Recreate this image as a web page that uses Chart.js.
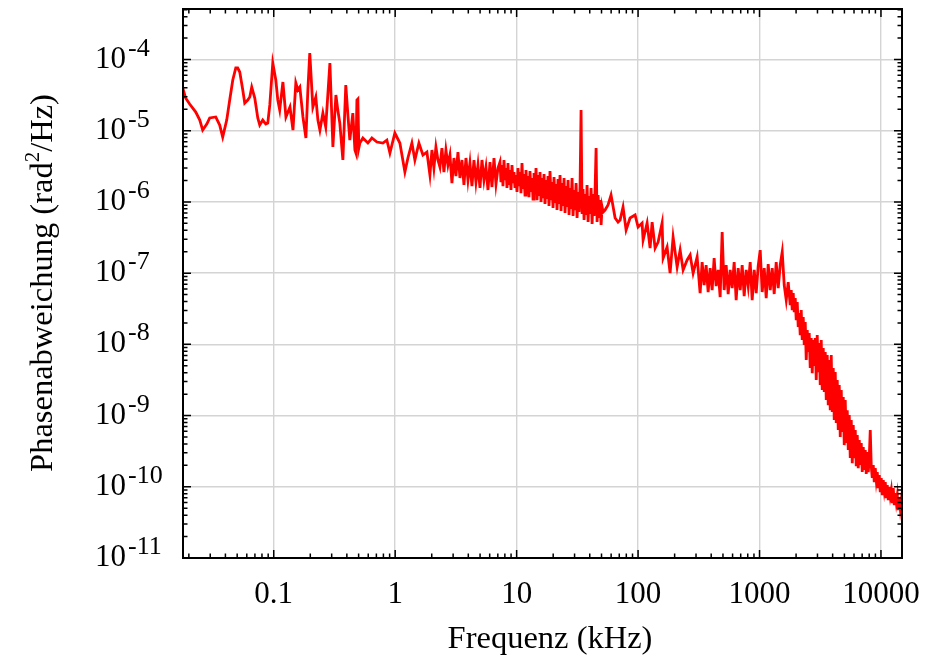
<!DOCTYPE html>
<html>
<head>
<meta charset="utf-8">
<script src="https://cdn.jsdelivr.net/npm/chart.js@4.4.1/dist/chart.umd.min.js"></script>
<style>
  html, body { margin: 0; padding: 0; background: #fff; }
  canvas { display: block; }
</style>
</head>
<body>
<canvas id="psdChart" width="926" height="659"></canvas>
<script>
// frequency in kHz
const freq = [
  0.0178, 0.0188, 0.0203, 0.0228, 0.0246, 0.0260, 0.0281, 0.0297, 0.0333, 0.0359,
  0.0380, 0.0410, 0.0434, 0.0460, 0.0487, 0.0505, 0.0525, 0.0556, 0.0577, 0.0611,
  0.0635, 0.0659, 0.0698, 0.0739, 0.0767, 0.0812, 0.0860, 0.0893, 0.0928, 0.0982,
  0.104, 0.108, 0.112, 0.119, 0.126, 0.136, 0.144, 0.152, 0.158, 0.164,
  0.174, 0.184, 0.191, 0.198, 0.210, 0.222, 0.231, 0.240, 0.254, 0.268,
  0.290, 0.307, 0.325, 0.337, 0.350, 0.371, 0.392, 0.408, 0.423, 0.448,
  0.466, 0.475, 0.484, 0.493, 0.502, 0.512, 0.542, 0.596, 0.643, 0.707,
  0.792, 0.854, 0.905, 0.994, 1.093, 1.202, 1.273, 1.373, 1.453, 1.568,
  1.692, 1.825,
  1.932, 2.007, 2.084, 2.165, 2.249, 2.336, 2.426, 2.520, 2.617, 2.719,
  2.824, 2.933, 3.047, 3.164, 3.287, 3.414, 3.546, 3.683, 3.826, 3.974,
  4.127, 4.287, 4.453, 4.625, 4.804, 4.990, 5.183, 5.384, 5.592, 5.808,
  6.033, 6.266, 6.509, 6.761, 7.022,
  7.292, 7.432, 7.575, 7.720, 7.867, 8.018, 8.172, 8.328, 8.488, 8.650,
  8.816, 8.985, 9.157, 9.332, 9.511, 9.693, 9.879, 10.07, 10.26, 10.46,
  10.66, 10.86, 11.07, 11.28, 11.50, 11.72, 11.94, 12.17, 12.40, 12.64,
  12.88, 13.13, 13.38, 13.64, 13.90, 14.17, 14.44, 14.72, 15.00, 15.29,
  15.58, 15.88, 16.18, 16.49, 16.81, 17.13, 17.46, 17.79, 18.13, 18.48,
  18.83, 19.20, 19.56, 19.94, 20.32, 20.71, 21.11, 21.51, 21.92, 22.35,
  22.77, 23.21, 23.66, 24.11, 24.57, 25.04, 25.52, 26.01, 26.51, 27.02,
  27.53, 28.06, 28.60, 29.15, 29.71, 30.28, 30.86, 31.45, 32.05, 32.66,
  33.29, 33.93, 34.58, 35.24, 35.92, 36.61, 37.31, 38.02, 38.75, 39.49,
  40.25, 41.02, 41.81, 42.61, 43.43, 44.26, 45.11, 45.97, 46.85, 47.75,
  48.67, 49.60, 50.55, 51.52,
  53.46, 56.6, 59.9, 64.7, 68.4, 71.1, 75.2, 79.7, 85.9, 94.5,
  100.0, 107.9, 110.0, 118.7, 125.6, 130.5, 138.1, 146.2, 157.7, 160.8,
  173.4, 183.5, 194.3, 209.7, 222.0, 234.9, 253.5, 268.3, 284.0, 306.4,
  324.3, 336.9, 349.9, 363.4, 377.5, 392.1, 407.3, 423.0, 439.4, 456.4,
  474.0, 492.4, 511.4, 531.2, 551.8, 573.1, 595.3, 618.3, 642.2, 667.1,
  692.9, 719.7, 747.6, 776.5, 806.6, 837.8, 870.2, 903.9, 938.9, 975.2,
  1013, 1052, 1093, 1135, 1179, 1225, 1272, 1321, 1372, 1425,
  1480, 1538, 1597, 1659, 1723, 1790,
  1824, 1859, 1894, 1931, 1968, 2005, 2044, 2083, 2123, 2163,
  2205, 2247, 2290, 2334, 2379, 2424, 2471, 2518, 2566, 2615,
  2665, 2716, 2768, 2821, 2875, 2930, 2986, 3044, 3102, 3161,
  3222, 3284, 3347, 3411, 3476, 3543, 3610, 3680, 3750, 3822,
  3895, 3970, 4046, 4123, 4202, 4283, 4365, 4448, 4533, 4620,
  4709, 4799, 4891, 4984, 5080, 5177, 5276, 5377, 5480, 5585,
  5692, 5801, 5912, 6025, 6141, 6258, 6378, 6500, 6625, 6751,
  6881, 7012, 7147, 7283, 7423, 7565, 7710, 7858, 8008, 8162,
  8318, 8477, 8640, 8805, 8974, 9146, 9321, 9499, 9681, 9867,
  10056, 10248, 10445, 10645, 10849, 11057, 11268, 11484, 11704, 11928,
  12157, 12390, 12627, 12869, 13115, 13367, 13623, 13884, 14150, 14421,
  14697, 14979
];

// phase noise PSD in rad^2/Hz
const psd = [
  3.98e-5, 2.88e-5, 2.37e-5, 1.83e-5, 1.41e-5, 1.02e-5, 1.24e-5, 1.51e-5, 1.56e-5, 1.20e-5,
  8.16e-6, 1.41e-5, 2.70e-5, 5.15e-5, 7.60e-5, 7.60e-5, 6.67e-5, 3.73e-5, 2.45e-5, 2.70e-5,
  2.97e-5, 4.11e-5, 2.88e-5, 1.51e-5, 1.20e-5, 1.41e-5, 1.24e-5, 1.28e-5, 2.30e-5, 8.93e-5,
  5.15e-5, 2.70e-5, 1.95e-5, 4.83e-5, 1.56e-5, 2.15e-5, 1.02e-5, 4.68e-5, 3.73e-5, 4.11e-5,
  1.56e-5, 7.90e-6, 3.73e-5, 1.23e-4, 2.15e-5, 2.97e-5, 1.41e-5, 1.02e-5, 1.77e-5, 1.13e-5,
  8.93e-5, 5.90e-6, 3.17e-5, 1.95e-5, 1.28e-5, 3.88e-6, 4.38e-5, 1.66e-5, 7.40e-6, 1.77e-5,
  5.36e-6, 4.86e-6, 2.70e-5, 2.79e-5, 5.71e-6, 6.72e-6, 7.90e-6, 6.72e-6, 7.90e-6, 6.94e-6,
  6.72e-6, 7.40e-6, 4.86e-6, 9.29e-6, 6.72e-6, 2.63e-6, 4.14e-6, 6.72e-6, 3.88e-6, 6.72e-6,
  4.56e-6, 5.02e-6,
  2.39e-6, 5.36e-6, 2.99e-6, 5.90e-6, 3.88e-6, 3.09e-6, 5.71e-6, 2.63e-6, 5.36e-6, 3.30e-6,
  4.56e-6, 1.84e-6, 4.14e-6, 2.31e-6, 5.02e-6, 2.17e-6, 3.88e-6, 1.73e-6, 4.14e-6, 2.03e-6,
  3.52e-6, 1.67e-6, 3.88e-6, 1.90e-6, 3.30e-6, 1.57e-6, 3.88e-6, 2.03e-6, 3.09e-6, 1.47e-6,
  3.63e-6, 1.62e-6, 4.14e-6, 1.78e-6, 2.99e-6,
  3.63e-6, 1.90e-6, 3.30e-6, 1.67e-6, 3.88e-6, 2.03e-6, 2.99e-6, 1.57e-6, 3.52e-6, 1.73e-6,
  2.81e-6, 1.47e-6, 3.30e-6, 1.84e-6, 2.63e-6, 1.57e-6, 2.39e-6, 1.38e-6, 2.99e-6, 1.67e-6,
  2.63e-6, 1.33e-6, 3.52e-6, 1.52e-6, 2.47e-6, 1.25e-6, 2.81e-6, 1.47e-6, 2.31e-6, 1.17e-6,
  2.72e-6, 1.38e-6, 2.17e-6, 1.10e-6, 2.55e-6, 1.29e-6, 2.99e-6, 1.06e-6, 2.39e-6, 1.21e-6,
  2.63e-6, 9.97e-7, 2.17e-6, 1.13e-6, 2.47e-6, 9.34e-7, 2.03e-6, 1.10e-6, 2.31e-6, 8.76e-7,
  2.72e-6, 1.06e-6, 1.90e-6, 8.21e-7, 2.24e-6, 9.65e-7, 1.78e-6, 7.69e-7, 2.10e-6, 9.34e-7,
  2.39e-6, 7.45e-7, 1.84e-6, 8.76e-7, 2.17e-6, 6.98e-7, 1.67e-6, 8.48e-7, 2.03e-6, 6.55e-7,
  1.57e-6, 7.95e-7, 2.17e-6, 6.34e-7, 1.47e-6, 7.69e-7, 1.84e-6, 5.94e-7, 1.38e-6, 7.21e-7,
  1.67e-6, 1.95e-5, 6.76e-7, 1.52e-6, 5.57e-7, 1.29e-6, 6.55e-7, 1.73e-6, 5.22e-7, 1.21e-6,
  6.76e-7, 1.57e-6, 4.89e-7, 1.29e-6, 6.34e-7, 1.47e-6, 5.71e-6, 5.22e-7, 1.25e-6, 5.94e-7,
  1.06e-6, 4.74e-7, 8.48e-7, 7.21e-7,
  7.69e-7, 9.05e-7, 1.25e-6, 5.94e-7, 5.22e-7, 5.57e-7, 8.48e-7, 4.03e-7, 5.94e-7, 6.55e-7,
  4.44e-7, 5.05e-7, 2.92e-7, 5.05e-7, 2.25e-7, 5.22e-7, 2.25e-7, 2.73e-7, 5.05e-7, 1.63e-7,
  2.33e-7, 1.00e-7, 3.21e-7, 1.22e-7, 2.11e-7, 1.11e-7, 1.53e-7, 1.80e-7, 1.00e-7, 1.68e-7,
  5.25e-8, 1.43e-7, 6.81e-8, 1.30e-7, 5.43e-8, 1.18e-7, 5.79e-8, 1.63e-7, 6.59e-8, 1.11e-7,
  4.62e-8, 3.78e-7, 5.79e-8, 1.30e-7, 5.09e-8, 1.11e-7, 6.18e-8, 1.43e-7, 4.19e-8, 1.18e-7,
  5.79e-8, 1.30e-7, 4.77e-8, 1.11e-7, 6.59e-8, 1.43e-7, 4.19e-8, 1.11e-7, 5.25e-8, 1.26e-7,
  2.11e-7, 5.43e-8, 1.18e-7, 4.47e-8, 1.34e-7, 5.79e-8, 1.18e-7, 5.09e-8, 1.43e-7, 6.18e-8,
  1.30e-7, 1.98e-7, 6.81e-8, 4.19e-8, 7.50e-8, 3.56e-8,
  5.79e-8, 3.03e-8, 5.25e-8, 2.84e-8, 4.47e-8, 2.19e-8, 3.93e-8, 1.75e-8, 2.75e-8, 1.35e-8,
  3.03e-8, 1.15e-8, 2.42e-8, 9.78e-9, 2.06e-8, 6.02e-9, 1.59e-8, 7.80e-9, 1.44e-8, 4.65e-9,
  1.23e-8, 3.95e-9, 1.15e-8, 4.96e-9, 1.23e-8, 3.15e-9, 1.35e-8, 4.08e-9, 1.04e-8, 2.68e-9,
  1.15e-8, 2.28e-9, 8.87e-9, 2.14e-9, 7.80e-9, 1.65e-9, 7.07e-9, 1.40e-9, 6.02e-9, 1.19e-9,
  7.07e-9, 1.12e-9, 4.65e-9, 8.65e-10, 4.08e-9, 7.85e-10, 3.15e-9, 6.26e-10, 2.68e-9, 4.99e-10,
  2.28e-9, 5.87e-10, 1.82e-9, 3.85e-10, 1.65e-9, 4.11e-10, 1.19e-9, 3.28e-10, 1.02e-9, 2.53e-10,
  8.65e-10, 2.15e-10, 7.36e-10, 2.53e-10, 6.26e-10, 1.95e-10, 5.32e-10, 1.83e-10, 4.53e-10, 2.02e-10,
  4.11e-10, 1.61e-10, 3.61e-10, 1.72e-10, 3.28e-10, 1.51e-10, 3.07e-10, 1.61e-10, 2.53e-10, 6.26e-10,
  1.95e-10, 1.33e-10, 2.02e-10, 1.16e-10, 1.83e-10, 1.24e-10, 1.61e-10, 9.59e-11, 1.46e-10, 8.42e-11,
  1.33e-10, 7.65e-11, 1.24e-10, 8.99e-11, 1.16e-10, 6.94e-11, 1.06e-10, 6.51e-11, 9.90e-11, 7.40e-11,
  8.99e-11, 5.90e-11, 9.59e-11, 5.53e-11, 8.16e-11, 6.10e-11, 7.65e-11, 4.71e-11, 7.17e-11, 5.02e-11,
  6.51e-11, 4.41e-11
];

const xTicks = [0.1, 1, 10, 100, 1000, 10000];
const xTickLabels = ['0.1', '1', '10', '100', '1000', '10000'];
const yTicks = [1e-4, 1e-5, 1e-6, 1e-7, 1e-8, 1e-9, 1e-10, 1e-11];
const yTickExps = ['-4', '-5', '-6', '-7', '-8', '-9', '-10', '-11'];

const serif = '"Liberation Serif", "Times New Roman", serif';

// frame, inward ticks and all the text (superscripts need manual drawing)
const framePlugin = {
  id: 'framePlugin',
  afterDraw(chart) {
    const { ctx, chartArea: a, scales: { x, y } } = chart;
    ctx.save();
    ctx.strokeStyle = '#000';
    ctx.lineWidth = 1.5;
    ctx.beginPath();
    for (let e = -2; e <= 4; e++) {
      for (let k = 1; k <= 9; k++) {
        const v = k * Math.pow(10, e);
        if (v < x.min || v > x.max) continue;
        const px = x.getPixelForValue(v);
        const len = k === 1 ? 8 : 4.5;
        ctx.moveTo(px, a.bottom); ctx.lineTo(px, a.bottom - len);
        ctx.moveTo(px, a.top); ctx.lineTo(px, a.top + len);
      }
    }
    for (let e = -11; e <= -4; e++) {
      for (let k = 1; k <= 9; k++) {
        const v = k * Math.pow(10, e);
        if (v < y.min || v > y.max) continue;
        const py = y.getPixelForValue(v);
        const len = k === 1 ? 8 : 4.5;
        ctx.moveTo(a.left, py); ctx.lineTo(a.left + len, py);
        ctx.moveTo(a.right, py); ctx.lineTo(a.right - len, py);
      }
    }
    ctx.stroke();

    ctx.lineWidth = 2;
    ctx.strokeRect(a.left, a.top, a.right - a.left, a.bottom - a.top);

    ctx.fillStyle = '#000';
    ctx.textBaseline = 'alphabetic';

    // x tick labels
    ctx.font = '31px ' + serif;
    ctx.textAlign = 'center';
    xTicks.forEach((v, i) => {
      ctx.fillText(xTickLabels[i], x.getPixelForValue(v), 603);
    });

    // y tick labels 10^n
    ctx.textAlign = 'left';
    yTicks.forEach((v, i) => {
      const py = y.getPixelForValue(v);
      ctx.font = '31px ' + serif;
      ctx.fillText('10', 95, py + 8);
      const w = ctx.measureText('10').width;
      ctx.font = '26px ' + serif;
      ctx.fillText(yTickExps[i], 95 + w + 2, py - 4);
    });

    // x title
    ctx.font = '32.5px ' + serif;
    ctx.textAlign = 'center';
    ctx.fillText('Frequenz (kHz)', 550, 648);

    // y title, rotated, with superscript 2
    const parts = [
      { t: 'Phasenabweichung (rad', f: '32.5px ' + serif, dy: 0 },
      { t: '2', f: '21px ' + serif, dy: -13 },
      { t: '/Hz)', f: '32.5px ' + serif, dy: 0 }
    ];
    let total = 0;
    parts.forEach(p => { ctx.font = p.f; p.w = ctx.measureText(p.t).width; total += p.w; });
    ctx.translate(52, 283);
    ctx.rotate(-Math.PI / 2);
    ctx.textAlign = 'left';
    let cx = -total / 2;
    parts.forEach(p => {
      ctx.font = p.f;
      ctx.fillText(p.t, cx, p.dy);
      cx += p.w;
    });
    ctx.restore();
  }
};

const psdPoints = freq.map((f, i) => ({ x: f, y: psd[i] }));

const psdConfig = {
  type: 'line',
  data: {
    datasets: [{
      label: 'Phasenabweichung',
      data: psdPoints,
      borderColor: '#ff0000',
      borderWidth: 2.8,
      pointRadius: 0,
      tension: 0,
      fill: false
    }]
  },
  options: {
    responsive: false,
    animation: false,
    devicePixelRatio: 1,
    layout: { padding: { left: 0, right: 24, top: 9, bottom: 0 } },
    plugins: {
      legend: { display: false },
      tooltip: { enabled: false }
    },
    scales: {
      x: {
        type: 'logarithmic',
        min: 0.0179,
        max: 14900,
        afterBuildTicks: scale => { scale.ticks = xTicks.map(v => ({ value: v, major: true })); },
        afterFit: scale => { scale.height = 101; },
        ticks: { display: false },
        grid: { color: '#d4d4d4', lineWidth: 1.4, drawTicks: false },
        border: { display: false }
      },
      y: {
        type: 'logarithmic',
        min: 1e-11,
        max: 5.12e-4,
        afterBuildTicks: scale => { scale.ticks = yTicks.map(v => ({ value: v, major: true })); },
        afterFit: scale => { scale.width = 183; },
        ticks: { display: false },
        grid: { color: '#d4d4d4', lineWidth: 1.4, drawTicks: false },
        border: { display: false }
      }
    }
  },
  plugins: [framePlugin]
};

const psdChart = new Chart(document.getElementById('psdChart'), psdConfig);
</script>
</body>
</html>
